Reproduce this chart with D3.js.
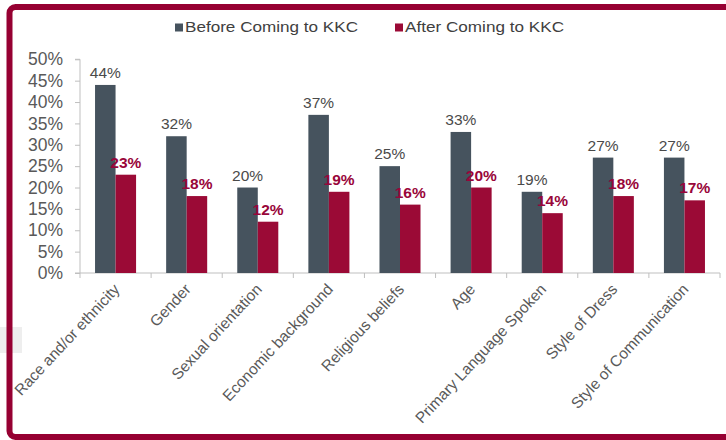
<!DOCTYPE html>
<html>
<head>
<meta charset="utf-8">
<script src="https://cdn.jsdelivr.net/npm/d3@7"></script>
<style>
  html, body { margin: 0; padding: 0; background: #fff; }
  svg { display: block; font-family: "Liberation Sans", Arial, sans-serif; }
</style>
</head>
<body>
<svg id="chart" width="726" height="440"></svg>
<script>
// Survey categories and the share of respondents in each period
const categories = [
  "Race and/or ethnicity", "Gender", "Sexual orientation", "Economic background",
  "Religious beliefs", "Age", "Primary Language Spoken", "Style of Dress", "Style of Communication"
];
const seriesNames = ["Before Coming to KKC", "After Coming to KKC"];
const before = [0.44, 0.32, 0.20, 0.37, 0.25, 0.33, 0.19, 0.27, 0.27];
const after  = [0.23, 0.18, 0.12, 0.19, 0.16, 0.20, 0.14, 0.18, 0.17];
const yTicks = [0, 0.05, 0.10, 0.15, 0.20, 0.25, 0.30, 0.35, 0.40, 0.45, 0.50];

const colors = ["#46535e", "#9b0a36"];
const labelColors = ["#4a4a4a", "#99063a"];
const frameColor = "#960032";

const svg = d3.select("#chart");

// faint slide shading on the left edge
svg.append("rect").attr("x", 0).attr("y", 327).attr("width", 22).attr("height", 26)
  .attr("fill", "#eeeeee");

// slide frame
svg.append("rect")
  .attr("x", 9.5).attr("y", 7).attr("width", 780).attr("height", 430)
  .attr("rx", 6).attr("ry", 6)
  .attr("fill", "none").attr("stroke", frameColor).attr("stroke-width", 6);

const plot = { left: 80, right: 720, top: 59.3, bottom: 273 };

const x0 = d3.scaleBand().domain(categories).range([plot.left, plot.right])
  .paddingInner(0.423).paddingOuter(0.2115);
const x1 = d3.scaleBand().domain(seriesNames).range([0, x0.bandwidth()]);
const y = d3.scaleLinear().domain([0, 0.5]).range([plot.bottom, plot.top]);

// y axis
const yAxis = d3.axisLeft(y).tickValues(yTicks).tickFormat(d3.format(".0%"))
  .tickSize(5).tickPadding(12);
const gy = svg.append("g").attr("transform", `translate(${plot.left},0)`).call(yAxis);
gy.select(".domain").attr("stroke", "#bfbfbf").attr("d", `M-5,${plot.top}H0V${plot.bottom}H-5`);
gy.selectAll(".tick line").attr("stroke", "#bfbfbf");
gy.selectAll(".tick text").attr("fill", "#595959").attr("font-size", 17.5)
  .attr("font-family", "Liberation Sans, Arial, sans-serif");

// x axis line with ticks between categories
const step = x0.step();
const boundaries = d3.range(categories.length + 1).map(i => plot.left + i * step);
const gx = svg.append("g");
gx.append("line").attr("x1", plot.left).attr("x2", plot.right)
  .attr("y1", plot.bottom).attr("y2", plot.bottom).attr("stroke", "#bfbfbf");
gx.selectAll("line.tk").data(boundaries).join("line").attr("class", "tk")
  .attr("x1", d => d).attr("x2", d => d)
  .attr("y1", plot.bottom).attr("y2", plot.bottom + 5).attr("stroke", "#bfbfbf");

// category labels
gx.selectAll("text.cat").data(categories).join("text").attr("class", "cat")
  .attr("transform", d => `translate(${x0(d) + x0.bandwidth() / 2 + 5},${plot.bottom + 17}) rotate(-47)`)
  .attr("text-anchor", "end")
  .attr("font-size", 15.5).attr("fill", "#595959")
  .text(d => d);

// bars
const rows = categories.map((c, i) => ({ cat: c, vals: [before[i], after[i]] }));
const groups = svg.append("g").selectAll("g").data(rows).join("g")
  .attr("transform", d => `translate(${x0(d.cat)},0)`);

groups.selectAll("rect").data(d => d.vals.map((v, k) => ({ v, k })))
  .join("rect")
  .attr("x", d => x1(seriesNames[d.k]))
  .attr("width", x1.bandwidth())
  .attr("y", d => y(d.v))
  .attr("height", d => y(0) - y(d.v))
  .attr("fill", d => colors[d.k]);

groups.selectAll("text").data(d => d.vals.map((v, k) => ({ v, k })))
  .join("text")
  .attr("x", d => x1(seriesNames[d.k]) + x1.bandwidth() / 2)
  .attr("y", d => y(d.v) - 7)
  .attr("text-anchor", "middle")
  .attr("font-size", 15.5)
  .attr("font-weight", d => d.k === 1 ? "bold" : "normal")
  .attr("fill", d => labelColors[d.k])
  .text(d => d3.format(".0%")(d.v));

// legend
const legendItems = [
  { name: seriesNames[0], x: 175, w: 173 },
  { name: seriesNames[1], x: 395, w: 159 }
];
const lg = svg.append("g");
legendItems.forEach((it, k) => {
  lg.append("rect").attr("x", it.x).attr("y", 23.5).attr("width", 8).attr("height", 8)
    .attr("fill", colors[k]);
  lg.append("text").attr("x", it.x + 10).attr("y", 32)
    .attr("font-size", 15).attr("fill", "#404040")
    .attr("textLength", it.w).attr("lengthAdjust", "spacingAndGlyphs")
    .text(it.name);
});
</script>
</body>
</html>
